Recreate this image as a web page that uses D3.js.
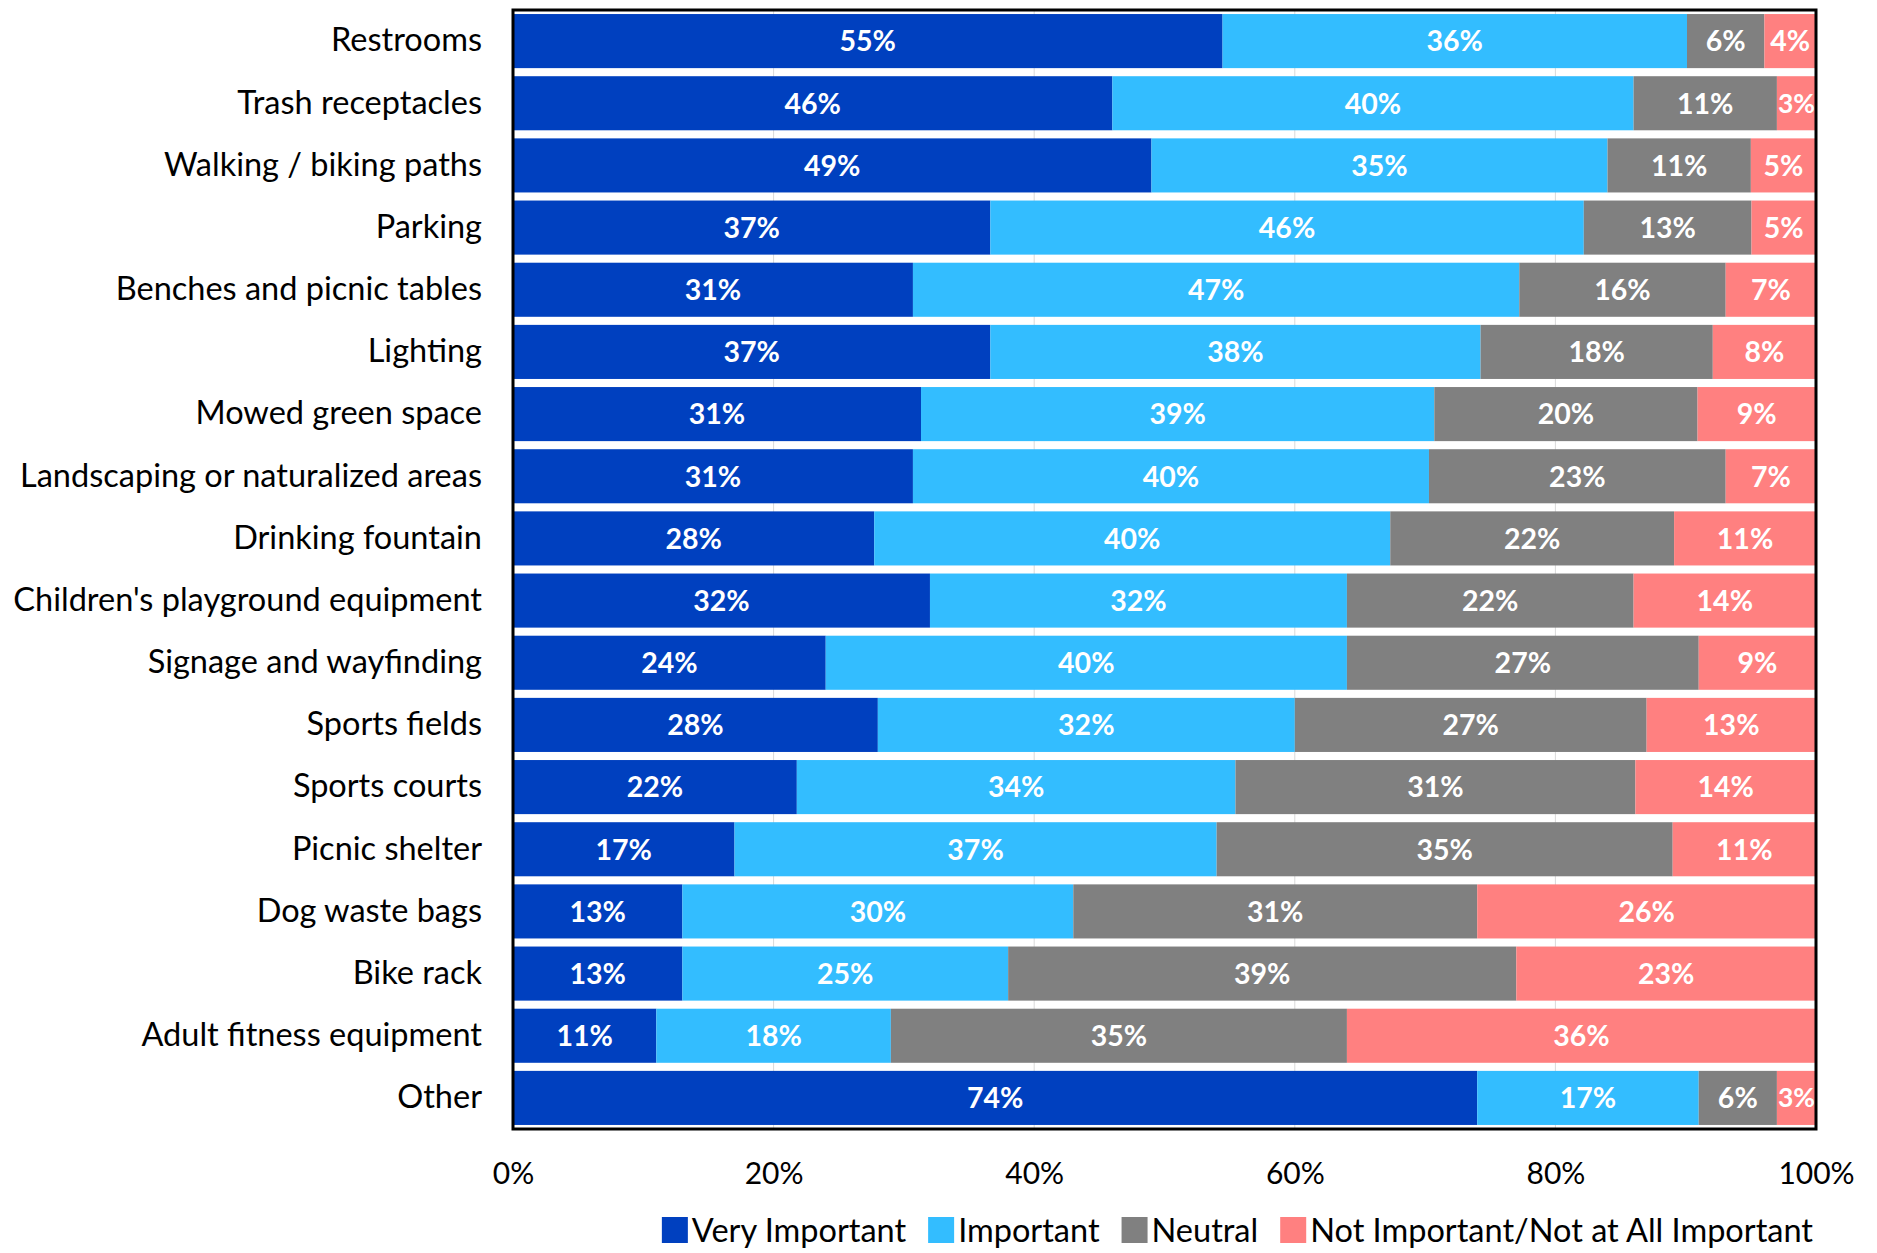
<!DOCTYPE html>
<html>
<head>
<meta charset="utf-8">
<script src="https://cdn.jsdelivr.net/npm/d3@7"></script>
<style>
  html, body { margin: 0; padding: 0; background: #fff; }
  svg { display: block; font-family: Lato, "Open Sans", sans-serif; }
</style>
</head>
<body>
<svg id="chart" width="1877" height="1253"></svg>
<script>
// Park amenity importance ratings (percent of respondents)
const categories = [
  "Restrooms", "Trash receptacles", "Walking / biking paths", "Parking",
  "Benches and picnic tables", "Lighting", "Mowed green space",
  "Landscaping or naturalized areas", "Drinking fountain",
  "Children's playground equipment", "Signage and wayfinding",
  "Sports fields ", "Sports courts", "Picnic shelter", "Dog waste bags",
  "Bike rack", "Adult fitness equipment", "Other"
];
const seriesNames = ["Very Important", "Important", "Neutral", "Not Important/Not at All Important"];
const veryImportant = [55, 46, 49, 37, 31, 37, 31, 31, 28, 32, 24, 28, 22, 17, 13, 13, 11, 74];
const important     = [36, 40, 35, 46, 47, 38, 39, 40, 40, 32, 40, 32, 34, 37, 30, 25, 18, 17];
const neutral       = [ 6, 11, 11, 13, 16, 18, 20, 23, 22, 22, 27, 27, 31, 35, 31, 39, 35,  6];
const notImportant  = [ 4,  3,  5,  5,  7,  8,  9,  7, 11, 14,  9, 13, 14, 11, 26, 23, 36,  3];
const xTicks = [0, 0.2, 0.4, 0.6, 0.8, 1.0];
const colors = ["#0040BF", "#33BDFF", "#808080", "#FF8080"];

const rows = categories.map((c, i) => ({
  category: c,
  [seriesNames[0]]: veryImportant[i],
  [seriesNames[1]]: important[i],
  [seriesNames[2]]: neutral[i],
  [seriesNames[3]]: notImportant[i]
}));

const svg = d3.select("#chart");
const margin = { left: 513, right: 61, top: 10, bottom: 124 };
const W = 1877, H = 1253;
const plotW = W - margin.left - margin.right;
const plotH = H - margin.top - margin.bottom;

const labelSize = 32.5, tickSize = 30, valueSize = 28.5;

const x = d3.scaleLinear().domain([0, 1]).range([margin.left, margin.left + plotW]);
const y = d3.scaleBand().domain(categories).range([margin.top, margin.top + plotH])
  .paddingInner(0.13).paddingOuter(0.065);

const stack = d3.stack().keys(seriesNames).offset(d3.stackOffsetExpand);
const layers = stack(rows);

// vertical gridlines
svg.append("g")
  .selectAll("line")
  .data(xTicks.slice(1, -1))
  .join("line")
  .attr("x1", d => x(d)).attr("x2", d => x(d))
  .attr("y1", margin.top).attr("y2", margin.top + plotH)
  .attr("stroke", "#d9d9d9").attr("stroke-width", 1);

// bar segments
const layerG = svg.append("g")
  .selectAll("g")
  .data(layers)
  .join("g")
  .attr("fill", (d, i) => colors[i]);

layerG.selectAll("rect")
  .data(d => d)
  .join("rect")
  .attr("x", d => x(d[0]))
  .attr("width", d => x(d[1]) - x(d[0]))
  .attr("y", d => y(d.data.category))
  .attr("height", y.bandwidth());

// value labels, shrunk only when a segment is too narrow
const labelG = svg.append("g")
  .attr("font-weight", 700)
  .attr("fill", "#fff")
  .attr("text-anchor", "middle");

layers.forEach(layer => {
  layer.forEach(d => {
    const v = d.data[layer.key];
    const segW = x(d[1]) - x(d[0]);
    const t = labelG.append("text")
      .attr("x", (x(d[0]) + x(d[1])) / 2)
      .attr("y", y(d.data.category) + y.bandwidth() / 2)
      .attr("dy", "0.36em")
      .attr("font-size", valueSize)
      .text(v + "%");
    const tw = t.node().getComputedTextLength();
    if (tw > segW - 2) t.attr("font-size", valueSize * (segW - 2) / tw);
  });
});

// plot area border
svg.append("rect")
  .attr("x", margin.left).attr("y", margin.top)
  .attr("width", plotW).attr("height", plotH)
  .attr("fill", "none").attr("stroke", "#000").attr("stroke-width", 3);

// category axis
const yAxis = svg.append("g")
  .attr("transform", `translate(${margin.left},0)`)
  .call(d3.axisLeft(y).tickSize(0).tickPadding(31));
yAxis.select(".domain").remove();
yAxis.selectAll("text").attr("font-size", labelSize).attr("fill", "#000")
  .attr("font-family", "Lato, sans-serif");

// value axis
const xAxis = svg.append("g")
  .attr("transform", `translate(0,${margin.top + plotH})`)
  .call(d3.axisBottom(x).tickValues(xTicks).tickFormat(d3.format(".0%")).tickSize(0).tickPadding(34));
xAxis.select(".domain").remove();
xAxis.selectAll("text").attr("font-size", tickSize).attr("fill", "#000")
  .attr("font-family", "Lato, sans-serif");

// legend, right-aligned under the plot
const legend = svg.append("g").attr("font-size", labelSize);
const sq = 26, gapText = 4, gapItem = 22;
const items = seriesNames.map((name, i) => {
  const g = legend.append("g");
  g.append("rect").attr("width", sq).attr("height", sq).attr("fill", colors[i]);
  const t = g.append("text").attr("x", sq + gapText).attr("y", sq / 2).attr("dy", "0.36em")
    .attr("fill", "#000").text(name);
  return { g, w: sq + gapText + t.node().getComputedTextLength() };
});
const totalW = d3.sum(items, d => d.w) + gapItem * (items.length - 1);
let lx = 1813 - totalW;
items.forEach(it => {
  it.g.attr("transform", `translate(${lx},${1230 - sq / 2})`);
  lx += it.w + gapItem;
});
</script>
</body>
</html>
